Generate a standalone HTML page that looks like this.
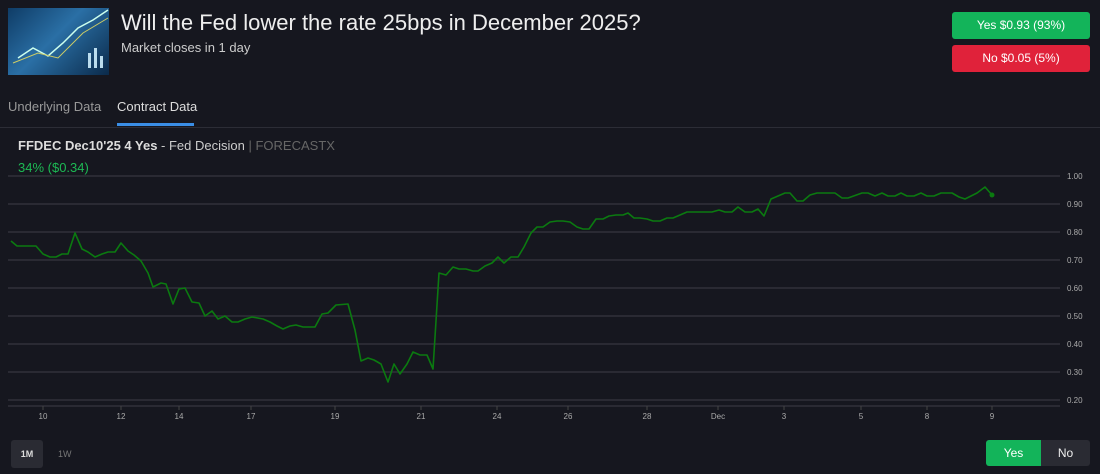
<!DOCTYPE html>
<html><head><meta charset="utf-8"><style>
body{margin:0;width:1100px;height:474px;background:#16171f;font-family:"Liberation Sans",sans-serif;overflow:hidden;position:relative;color:#ddd}
.a{position:absolute}
</style></head><body>
<div class="a" style="left:8px;top:8px;width:101px;height:67px;background:linear-gradient(135deg,#0f3c66,#2a6fa5 45%,#0b2a4a);overflow:hidden">
<svg width="101" height="67"><polyline points="10,50 25,40 40,48 55,35 70,20 85,12 100,2" fill="none" stroke="#cfe" stroke-width="1.5"/><polyline points="5,55 30,45 50,50 75,25 100,10" fill="none" stroke="#cc6" stroke-width="1"/><g fill="#bde">
<rect x="80" y="45" width="3" height="15"/><rect x="86" y="40" width="3" height="20"/><rect x="92" y="48" width="3" height="12"/></g></svg></div>
<div class="a" style="left:121px;top:10px;font-size:22px;color:#eee">Will the Fed lower the rate 25bps in December 2025?</div>
<div class="a" style="left:121px;top:40px;font-size:13px;color:#ccc">Market closes in 1 day</div>
<div class="a" style="left:952px;top:12px;width:138px;height:27px;background:#13b45a;border-radius:3px;color:#fff;font-size:12px;text-align:center;line-height:27px">Yes $0.93 (93%)</div>
<div class="a" style="left:952px;top:45px;width:138px;height:27px;background:#e0223a;border-radius:3px;color:#fff;font-size:12px;text-align:center;line-height:27px">No $0.05 (5%)</div>
<div class="a" style="left:8px;top:99px;font-size:13px;color:#999">Underlying Data</div>
<div class="a" style="left:117px;top:99px;font-size:13px;color:#ddd">Contract Data</div>
<div class="a" style="left:117px;top:123px;width:77px;height:3px;background:#3a8ee6"></div>
<div class="a" style="left:0;top:127px;width:1100px;height:1px;background:#2c2d36"></div>
<div class="a" style="left:18px;top:138px;font-size:13px;color:#ccc"><b style="color:#ddd">FFDEC Dec10'25 4 Yes</b> - Fed Decision <span style="color:#666">| FORECASTX</span></div>
<div class="a" style="left:18px;top:160px;font-size:13px;color:#1db954">34% ($0.34)</div>
<svg class="a" style="left:0;top:0" width="1100" height="474">
<g stroke="#30313a" stroke-width="1.5">
<line x1="8" y1="176" x2="1060" y2="176"/><line x1="8" y1="204" x2="1060" y2="204"/><line x1="8" y1="232" x2="1060" y2="232"/><line x1="8" y1="260" x2="1060" y2="260"/><line x1="8" y1="288" x2="1060" y2="288"/><line x1="8" y1="316" x2="1060" y2="316"/><line x1="8" y1="344" x2="1060" y2="344"/><line x1="8" y1="372" x2="1060" y2="372"/><line x1="8" y1="400" x2="1060" y2="400"/><line x1="8" y1="406" x2="1060" y2="406"/>
</g>
<g stroke="#444" stroke-width="1"><line x1="43" y1="406" x2="43" y2="410"/><line x1="121" y1="406" x2="121" y2="410"/><line x1="179" y1="406" x2="179" y2="410"/><line x1="251" y1="406" x2="251" y2="410"/><line x1="335" y1="406" x2="335" y2="410"/><line x1="421" y1="406" x2="421" y2="410"/><line x1="497" y1="406" x2="497" y2="410"/><line x1="568" y1="406" x2="568" y2="410"/><line x1="647" y1="406" x2="647" y2="410"/><line x1="718" y1="406" x2="718" y2="410"/><line x1="784" y1="406" x2="784" y2="410"/><line x1="861" y1="406" x2="861" y2="410"/><line x1="927" y1="406" x2="927" y2="410"/><line x1="992" y1="406" x2="992" y2="410"/></g>
<g fill="#aaa" font-size="8" font-family="Liberation Sans,sans-serif"><text x="1067" y="179">1.00</text><text x="1067" y="207">0.90</text><text x="1067" y="235">0.80</text><text x="1067" y="263">0.70</text><text x="1067" y="291">0.60</text><text x="1067" y="319">0.50</text><text x="1067" y="347">0.40</text><text x="1067" y="375">0.30</text><text x="1067" y="403">0.20</text></g>
<g fill="#aaa" font-size="8" font-family="Liberation Sans,sans-serif" text-anchor="middle"><text x="43" y="419">10</text><text x="121" y="419">12</text><text x="179" y="419">14</text><text x="251" y="419">17</text><text x="335" y="419">19</text><text x="421" y="419">21</text><text x="497" y="419">24</text><text x="568" y="419">26</text><text x="647" y="419">28</text><text x="718" y="419">Dec</text><text x="784" y="419">3</text><text x="861" y="419">5</text><text x="927" y="419">8</text><text x="992" y="419">9</text></g>
<polyline fill="none" stroke="#0b7a10" stroke-width="1.6" stroke-linejoin="round" points="11,241 17,246 36,246 43,254 50,257 56,257 62,254 68,254 75,233 82,249 88,252 95,257 102,254 108,252 115,252 121,243 128,251 134,255 141,261 148,273 153,287 161,283 166,284 173,304 179,289 185,288 192,302 199,303 205,316 212,311 218,319 225,316 232,322 238,322 245,319 252,317 263,319 270,322 277,326 283,329 290,326 296,325 303,327 315,327 322,314 328,313 336,305 348,304 355,330 361,361 368,358 374,360 381,364 388,382 394,364 400,374 407,364 413,352 420,355 427,355 433,369 439,273 446,275 453,267 459,269 466,269 473,271 478,271 485,266 492,263 498,257 504,263 511,257 518,257 524,247 531,233 537,227 543,227 550,222 557,221 563,221 570,222 577,227 583,229 589,229 596,219 603,219 609,216 616,215 623,215 628,213 634,218 640,218 647,219 653,221 660,221 667,218 673,218 680,215 687,212 712,212 719,210 725,212 732,212 738,207 745,212 752,212 758,209 764,216 771,199 785,193 790,193 797,201 803,201 810,195 817,193 835,193 842,198 848,198 862,193 868,193 875,196 882,193 888,196 895,196 901,193 907,196 914,196 921,193 927,196 934,196 941,193 952,193 959,197 965,199 977,193 985,187 992,195"/>
<circle cx="992" cy="195" r="2.5" fill="#0b7a10"/>
</svg>
<div class="a" style="left:11px;top:440px;width:32px;height:28px;background:#2a2b33;border-radius:3px;color:#ddd;font-size:9px;font-weight:bold;text-align:center;line-height:28px">1M</div>
<div class="a" style="left:58px;top:440px;width:18px;height:28px;color:#777;font-size:9px;line-height:28px">1W</div>
<div class="a" style="left:986px;top:440px;width:55px;height:26px;background:#13b45a;border-radius:3px 0 0 3px;color:#fff;font-size:12px;text-align:center;line-height:26px">Yes</div>
<div class="a" style="left:1041px;top:440px;width:49px;height:26px;background:#2a2b33;border-radius:0 3px 3px 0;color:#eee;font-size:12px;text-align:center;line-height:26px">No</div>
</body></html>
